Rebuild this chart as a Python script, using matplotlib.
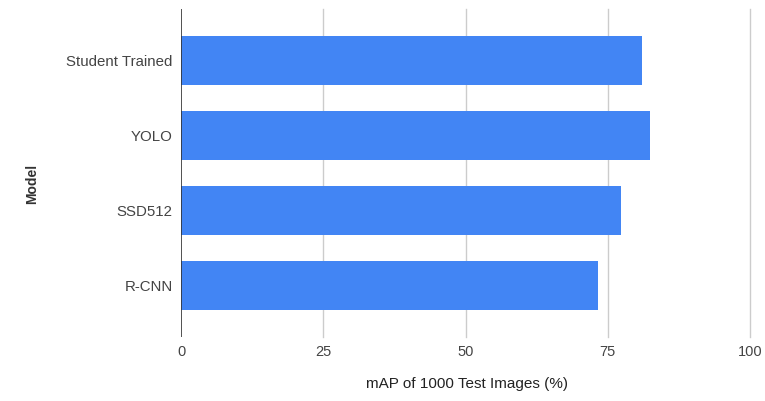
import matplotlib
matplotlib.use("Agg")
import matplotlib.pyplot as plt

models = ["Student Trained", "YOLO", "SSD512", "R-CNN"]
map_values = [81.1, 82.5, 77.3, 73.2]
x_ticks = [0, 25, 50, 75, 100]

plt.rcParams['font.family'] = ['Liberation Sans', 'DejaVu Sans']

fig = plt.figure(figsize=(7.65, 4.01), dpi=100)
ax = fig.add_axes([181/765, 1-337/401, (750-181)/765, (337-9)/401])

ypos = list(range(len(models)))
ax.barh(ypos, map_values, height=0.65, color="#4285F4", zorder=3)

ax.set_xlim(0, 100)
ax.set_ylim(len(models) - 1 + 0.68, -0.68)
ax.set_yticks(ypos)
ax.set_yticklabels(models)
ax.set_xticks(x_ticks)
ax.set_xticklabels([str(t) for t in x_ticks])

for t in x_ticks[1:]:
    ax.axvline(t, color="#cccccc", lw=1, zorder=1, clip_on=False)
ax.axvline(0, color="#333333", lw=1.2, zorder=4)

for s in ax.spines.values():
    s.set_visible(False)
ax.tick_params(axis='both', length=0, colors="#444444")
ax.tick_params(axis='y', pad=6, labelsize=10.8)
ax.tick_params(axis='x', pad=6, labelsize=10.5)

fig.text(467/765, 1-384/401, "mAP of 1000 Test Images (%)", ha='center', va='center',
         fontsize=11, color="#222222")
fig.text(32/765, 1-184/401, "Model", ha='center', va='center', rotation=90,
         fontsize=10, fontweight='bold', color="#333333")

fig.savefig("out.png", dpi=100)
